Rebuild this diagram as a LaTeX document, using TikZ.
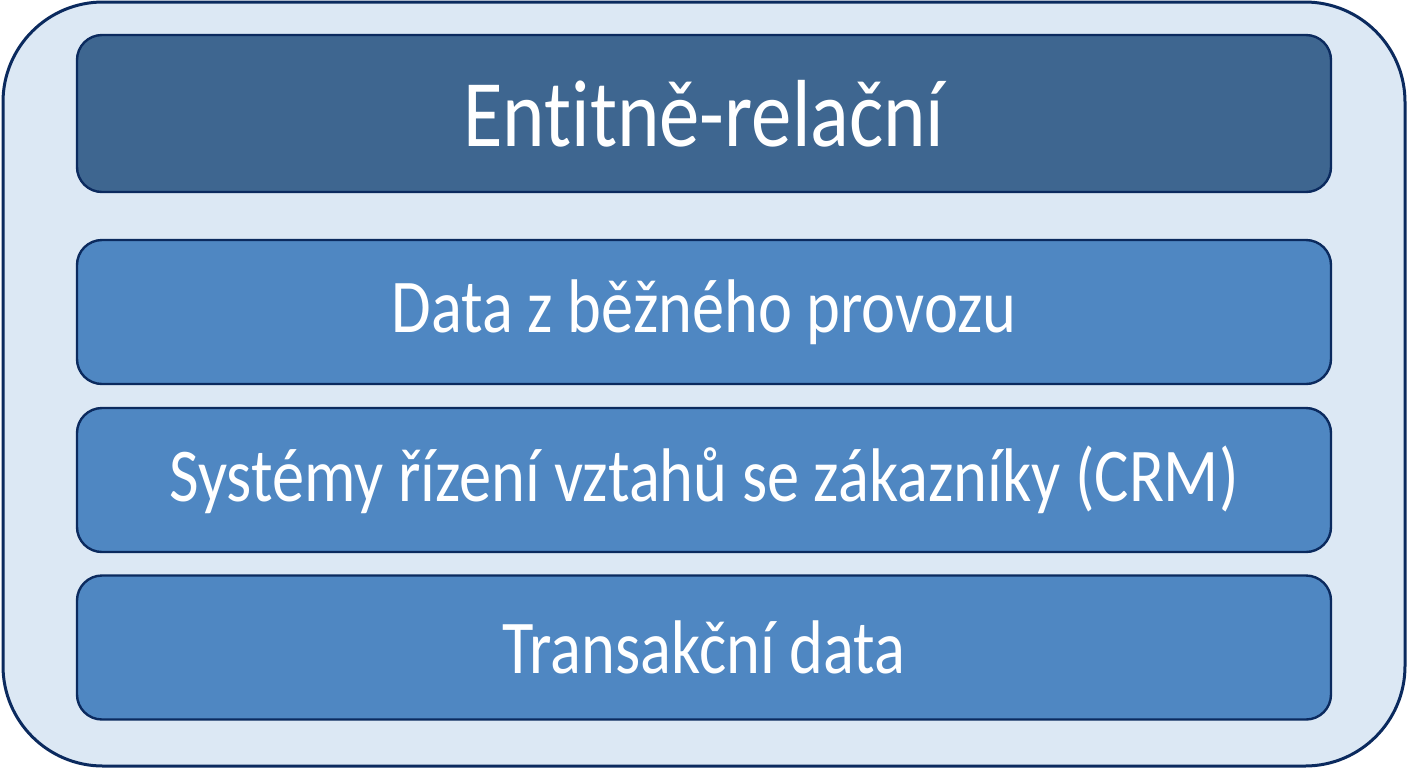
\documentclass[tikz,border=0pt]{standalone}
\usepackage{fontspec}
\usepackage{graphicx}
\setmainfont{Carlito}[RawFeature=-liga]
\usetikzlibrary{positioning}
\definecolor{frameFill}{HTML}{DCE8F4}
\definecolor{navyLine}{HTML}{0B2A5E}
\definecolor{titleFill}{HTML}{3E6690}
\definecolor{layerFill}{HTML}{4F87C2}
\newcommand{\tallText}[1]{\scalebox{1}[1.18]{#1}}

\begin{document}
\begin{tikzpicture}[x = 0.5pt, y = -0.5pt]
	\tikzstyle{frameStyle} = [shape = rectangle, rounded corners = 50pt, draw = navyLine, line width = 1.5pt, fill = frameFill, minimum width = 701pt, minimum height = 382pt, inner sep = 0pt]
	\tikzstyle{titleStyle} = [shape = rectangle, rounded corners = 12.5pt, draw = navyLine, line width = 1.2pt, fill = titleFill, text = white, minimum width = 627pt, minimum height = 78.5pt, font = \fontsize{40.4}{44}\selectfont]
	\tikzstyle{layerStyle} = [shape = rectangle, rounded corners = 12.5pt, draw = navyLine, line width = 1.2pt, fill = layerFill, text = white, minimum width = 627pt, minimum height = 72pt, font = \fontsize{32.2}{36}\selectfont]
	\useasboundingbox (0, 0) rectangle (1408, 768);
	\node[frameStyle] (frame) at (704, 384) {};
	\node[titleStyle] (title) at (704, 113.5) {\tallText{Entitně-relační}};
	\node[layerStyle] (daily) at (704, 312) {\tallText{Data z běžného provozu}};
	\node[layerStyle] (crm) at (704, 480) {\tallText{Systémy řízení vztahů se zákazníky (CRM)}};
	\node[layerStyle] (trans) at (704, 647.5) {\tallText{Transakční data}};
\end{tikzpicture}
\end{document}
